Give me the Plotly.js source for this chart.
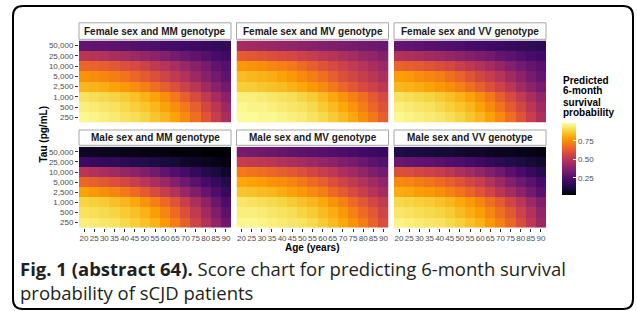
<!DOCTYPE html>
<html>
<head>
<meta charset="utf-8">
<script src="https://cdn.plot.ly/plotly-3.0.1.min.js"></script>
<style>
html,body{margin:0;padding:0;background:#fff;}
#chart{width:637px;height:311px;}
</style>
</head>
<body>
<div id="chart"></div>
<script>
// ---- data ----
const ages = [20,25,30,35,40,45,50,55,60,65,70,75,80,85,90];
const tauLabels = ["50,000","25,000","10,000","5,000","2,500","1,000","500","250"]; // top -> bottom
const panelTitles = ["Female sex and MM genotype","Female sex and MV genotype","Female sex and VV genotype",
                     "Male sex and MM genotype","Male sex and MV genotype","Male sex and VV genotype"];

// predicted 6-month survival probability, rows = tauLabels (top -> bottom), cols = ages
const femaleMM = [
 [0.30,0.29,0.29,0.28,0.27,0.26,0.25,0.24,0.23,0.22,0.21,0.20,0.19,0.18,0.17],
 [0.50,0.49,0.48,0.46,0.45,0.43,0.41,0.39,0.37,0.34,0.31,0.29,0.26,0.23,0.21],
 [0.66,0.65,0.64,0.62,0.60,0.58,0.55,0.52,0.49,0.46,0.42,0.38,0.34,0.29,0.26],
 [0.76,0.75,0.73,0.71,0.69,0.66,0.63,0.60,0.56,0.52,0.48,0.43,0.38,0.33,0.29],
 [0.83,0.82,0.81,0.79,0.77,0.75,0.72,0.68,0.64,0.60,0.55,0.50,0.44,0.38,0.33],
 [0.92,0.91,0.90,0.89,0.87,0.85,0.82,0.79,0.75,0.70,0.64,0.58,0.52,0.45,0.39],
 [0.95,0.94,0.93,0.92,0.90,0.88,0.86,0.83,0.79,0.75,0.70,0.64,0.57,0.50,0.43],
 [0.97,0.96,0.95,0.94,0.92,0.91,0.89,0.86,0.83,0.79,0.74,0.68,0.61,0.53,0.46]
];
const femaleMV = [
 [0.45,0.44,0.43,0.42,0.41,0.40,0.39,0.38,0.37,0.36,0.35,0.34,0.33,0.32,0.31],
 [0.63,0.62,0.61,0.60,0.58,0.57,0.55,0.53,0.51,0.49,0.47,0.45,0.42,0.40,0.37],
 [0.77,0.76,0.75,0.73,0.72,0.70,0.67,0.64,0.61,0.58,0.55,0.52,0.49,0.46,0.43],
 [0.84,0.83,0.82,0.81,0.79,0.77,0.74,0.71,0.68,0.64,0.60,0.57,0.53,0.50,0.47],
 [0.88,0.87,0.86,0.85,0.84,0.82,0.80,0.77,0.74,0.70,0.66,0.62,0.58,0.55,0.51],
 [0.95,0.95,0.94,0.93,0.92,0.91,0.89,0.87,0.84,0.80,0.76,0.72,0.68,0.63,0.58],
 [0.97,0.96,0.96,0.95,0.94,0.93,0.92,0.90,0.87,0.84,0.80,0.76,0.71,0.66,0.61],
 [0.98,0.98,0.97,0.97,0.96,0.95,0.94,0.92,0.90,0.87,0.84,0.80,0.75,0.70,0.64]
];
const femaleVV = [
 [0.30,0.29,0.28,0.27,0.26,0.25,0.24,0.23,0.22,0.21,0.20,0.19,0.18,0.17,0.16],
 [0.48,0.47,0.46,0.44,0.43,0.41,0.39,0.37,0.35,0.33,0.30,0.28,0.25,0.23,0.21],
 [0.65,0.64,0.63,0.61,0.59,0.57,0.54,0.51,0.48,0.45,0.41,0.37,0.33,0.30,0.27],
 [0.78,0.77,0.75,0.73,0.71,0.68,0.65,0.61,0.57,0.53,0.49,0.44,0.39,0.34,0.30],
 [0.83,0.82,0.81,0.79,0.77,0.75,0.72,0.68,0.64,0.60,0.55,0.50,0.44,0.39,0.34],
 [0.92,0.91,0.90,0.89,0.87,0.85,0.82,0.79,0.75,0.70,0.64,0.58,0.52,0.46,0.40],
 [0.95,0.94,0.93,0.92,0.90,0.88,0.86,0.83,0.79,0.74,0.69,0.63,0.57,0.50,0.44],
 [0.97,0.96,0.95,0.94,0.93,0.91,0.89,0.86,0.83,0.79,0.74,0.68,0.61,0.54,0.47]
];
const maleMM = [
 [0.07,0.07,0.06,0.06,0.05,0.05,0.04,0.04,0.04,0.03,0.03,0.03,0.02,0.02,0.02],
 [0.20,0.19,0.18,0.17,0.16,0.15,0.14,0.12,0.11,0.10,0.08,0.07,0.06,0.05,0.04],
 [0.50,0.48,0.46,0.44,0.41,0.39,0.36,0.33,0.29,0.25,0.22,0.18,0.14,0.11,0.08],
 [0.66,0.64,0.62,0.60,0.57,0.54,0.50,0.46,0.42,0.37,0.32,0.27,0.22,0.18,0.14],
 [0.79,0.77,0.75,0.73,0.70,0.67,0.63,0.58,0.53,0.48,0.42,0.36,0.30,0.24,0.19],
 [0.89,0.88,0.87,0.85,0.83,0.80,0.76,0.72,0.67,0.61,0.54,0.47,0.39,0.31,0.24],
 [0.92,0.91,0.90,0.89,0.87,0.85,0.82,0.78,0.73,0.67,0.60,0.52,0.44,0.36,0.28],
 [0.95,0.94,0.93,0.92,0.90,0.88,0.85,0.82,0.77,0.71,0.64,0.56,0.48,0.40,0.32]
];
const maleMV = [
 [0.34,0.33,0.32,0.31,0.30,0.29,0.28,0.27,0.26,0.25,0.24,0.23,0.21,0.20,0.19],
 [0.53,0.52,0.51,0.50,0.48,0.47,0.45,0.43,0.41,0.39,0.36,0.34,0.31,0.28,0.26],
 [0.70,0.69,0.68,0.66,0.64,0.62,0.60,0.57,0.54,0.51,0.47,0.44,0.40,0.36,0.33],
 [0.80,0.79,0.78,0.76,0.75,0.73,0.70,0.67,0.64,0.60,0.56,0.52,0.48,0.44,0.40],
 [0.86,0.85,0.84,0.83,0.81,0.79,0.77,0.74,0.71,0.67,0.63,0.58,0.54,0.49,0.45],
 [0.93,0.92,0.91,0.90,0.89,0.87,0.85,0.83,0.80,0.76,0.72,0.67,0.62,0.57,0.52],
 [0.95,0.95,0.94,0.93,0.92,0.91,0.89,0.87,0.84,0.81,0.77,0.72,0.67,0.62,0.56],
 [0.97,0.97,0.96,0.95,0.94,0.93,0.92,0.90,0.87,0.84,0.80,0.76,0.71,0.65,0.59]
];
const maleVV = [
 [0.13,0.12,0.12,0.11,0.10,0.10,0.09,0.08,0.08,0.07,0.06,0.06,0.05,0.05,0.04],
 [0.31,0.30,0.29,0.28,0.27,0.25,0.24,0.22,0.20,0.18,0.16,0.14,0.12,0.10,0.09],
 [0.60,0.59,0.57,0.55,0.53,0.50,0.47,0.44,0.40,0.36,0.32,0.27,0.23,0.19,0.15],
 [0.74,0.73,0.71,0.69,0.67,0.64,0.61,0.57,0.53,0.48,0.43,0.37,0.32,0.27,0.22],
 [0.81,0.80,0.78,0.77,0.75,0.72,0.69,0.65,0.61,0.56,0.50,0.45,0.39,0.33,0.27],
 [0.90,0.89,0.88,0.87,0.85,0.83,0.80,0.77,0.73,0.68,0.63,0.56,0.50,0.43,0.36],
 [0.93,0.92,0.91,0.90,0.89,0.87,0.84,0.81,0.78,0.73,0.68,0.62,0.55,0.48,0.40],
 [0.96,0.95,0.94,0.93,0.92,0.90,0.88,0.85,0.82,0.77,0.72,0.66,0.59,0.51,0.43]
];
const colorTicks = [0.25,0.50,0.75];
const colorTickText = ["0.25","0.50","0.75"];

// ---- layout helpers ----
const W = 637, H = 311;
const px = x => x / W;
const py = y => 1 - y / H;
const SANS = "'Liberation Sans', Arial, Helvetica, sans-serif";

const inferno = [
 [0.000,"#000004"],[0.100,"#1b0c41"],[0.200,"#420a68"],[0.222,"#4b0c6b"],[0.300,"#6a176e"],
 [0.333,"#781c6d"],[0.400,"#932667"],[0.444,"#a52c60"],[0.500,"#bc3754"],[0.556,"#cf4446"],
 [0.600,"#dd513a"],[0.667,"#ed6925"],[0.700,"#f37819"],[0.778,"#fb9a06"],[0.800,"#fca50a"],
 [0.889,"#f7d03c"],[0.900,"#f6d746"],[1.000,"#fcffa4"]
];

const panels = [femaleMM,femaleMV,femaleVV,maleMM,maleMV,maleVV];
const colX = [[79,231],[236.5,388.5],[394,546]];
const rowY = [[40.5,122.5],[146.7,227.7]];
const stripY = [[22.8,39.3],[130,145.3]];

const traces = [];
const layout = {
  width: W, height: H, autosize: false,
  margin: {l:0,r:0,t:0,b:0,pad:0},
  paper_bgcolor: "#ffffff", plot_bgcolor: "#ffffff",
  font: {family: SANS, color: "#1a1a1a"},
  showlegend: false,
  shapes: [], annotations: []
};

panels.forEach((z, i) => {
  const r = Math.floor(i / 3), c = i % 3;
  const xa = i === 0 ? "x" : "x" + (i + 1);
  const ya = i === 0 ? "y" : "y" + (i + 1);
  traces.push({
    type: "heatmap", x: ages, y: tauLabels, z: z,
    xaxis: xa, yaxis: ya,
    colorscale: inferno, zmin: 0.02, zmax: 0.99,
    showscale: i === 0,
    hoverinfo: "skip",
    colorbar: {
      x: px(561.5), xanchor: "left", y: py(123), yanchor: "top",
      len: 72, lenmode: "pixels", thickness: 14, thicknessmode: "pixels",
      outlinewidth: 0, xpad: 0, ypad: 0,
      tickvals: colorTicks, ticktext: colorTickText,
      ticks: "inside", ticklen: 3, tickcolor: "#ffffff", tickwidth: 1,
      tickfont: {size: 8, color: "#4d4d4d", family: SANS}
    }
  });
  const xKey = i === 0 ? "xaxis" : "xaxis" + (i + 1);
  const yKey = i === 0 ? "yaxis" : "yaxis" + (i + 1);
  layout[xKey] = {
    domain: [px(colX[c][0]), px(colX[c][1])], anchor: ya,
    range: [17.5, 92.5], showgrid: false, zeroline: false, showline: false,
    tickmode: "array", tickvals: ages, ticktext: ages.map(String), tickangle: 0,
    showticklabels: r === 1, ticks: r === 1 ? "outside" : "",
    ticklen: 3, tickwidth: 1, tickcolor: "#333333", automargin: false,
    tickfont: {size: 8, color: "#4d4d4d", family: SANS}, fixedrange: true
  };
  layout[yKey] = {
    domain: [py(rowY[r][1]), py(rowY[r][0])], anchor: xa,
    type: "category", range: [7.5, -0.5], automargin: false,
    showgrid: false, zeroline: false, showline: false,
    showticklabels: c === 0, ticks: c === 0 ? "outside" : "",
    ticklen: 3, tickwidth: 1, tickcolor: "#333333",
    tickfont: {size: 8, color: "#4d4d4d", family: SANS}, fixedrange: true
  };
  // strip
  layout.shapes.push({
    type: "rect", xref: "paper", yref: "paper",
    x0: px(colX[c][0]), x1: px(colX[c][1]),
    y0: py(stripY[r][1]), y1: py(stripY[r][0]),
    fillcolor: "#ffffff", line: {color: "#a6a6a6", width: 1}
  });
  layout.annotations.push({
    xref: "paper", yref: "paper",
    x: px((colX[c][0] + colX[c][1]) / 2), y: py((stripY[r][0] + stripY[r][1]) / 2),
    xanchor: "center", yanchor: "middle", showarrow: false,
    text: "<b>" + panelTitles[i] + "</b>",
    font: {size: 10, color: "#1a1a1a", family: SANS}
  });
});

// axis titles
layout.annotations.push({
  xref: "paper", yref: "paper", x: px(312), y: py(247.5),
  xanchor: "center", yanchor: "middle", showarrow: false,
  text: "<b>Age (years)</b>", font: {size: 10, color: "#000000", family: SANS}
});
layout.annotations.push({
  xref: "paper", yref: "paper", x: px(42.5), y: py(135),
  xanchor: "center", yanchor: "middle", showarrow: false, textangle: -90,
  text: "<b>Tau (pg/mL)</b>", font: {size: 10, color: "#000000", family: SANS}
});
// legend title
["Predicted","6-month","survival","probability"].forEach((t, k) => {
  layout.annotations.push({
    xref: "paper", yref: "paper", x: px(561), y: py(80 + k * 11),
    xanchor: "left", yanchor: "middle", showarrow: false,
    text: "<b>" + t + "</b>", font: {size: 10, color: "#000000", family: SANS}
  });
});
// caption
const CAP = "'Open Sans', 'Noto Sans', sans-serif";
layout.annotations.push({
  xref: "paper", yref: "paper", x: px(18), y: py(268),
  xanchor: "left", yanchor: "middle", showarrow: false,
  text: "<b>Fig. 1 (abstract 64).</b> Score chart for predicting 6-month survival",
  font: {size: 18.5, color: "#231f20", family: CAP}
});
layout.annotations.push({
  xref: "paper", yref: "paper", x: px(18), y: py(292),
  xanchor: "left", yanchor: "middle", showarrow: false,
  text: "probability of sCJD patients",
  font: {size: 18.5, color: "#231f20", family: CAP}
});

// outer rounded border
(function(){
  const L = 13, T = 6, R = 633, B = 309, rad = 10;
  const p = (x, y) => px(x).toFixed(5) + "," + py(y).toFixed(5);
  const path = "M" + p(L + rad, T) + " L" + p(R - rad, T) + " Q" + p(R, T) + " " + p(R, T + rad) +
               " L" + p(R, B - rad) + " Q" + p(R, B) + " " + p(R - rad, B) +
               " L" + p(L + rad, B) + " Q" + p(L, B) + " " + p(L, B - rad) +
               " L" + p(L, T + rad) + " Q" + p(L, T) + " " + p(L + rad, T) + " Z";
  layout.shapes.push({type: "path", xref: "paper", yref: "paper", path: path,
    line: {color: "#000000", width: 2}, fillcolor: "rgba(0,0,0,0)", layer: "above"});
})();

Plotly.newPlot("chart", traces, layout, {staticPlot: true, displayModeBar: false});
</script>
</body>
</html>
